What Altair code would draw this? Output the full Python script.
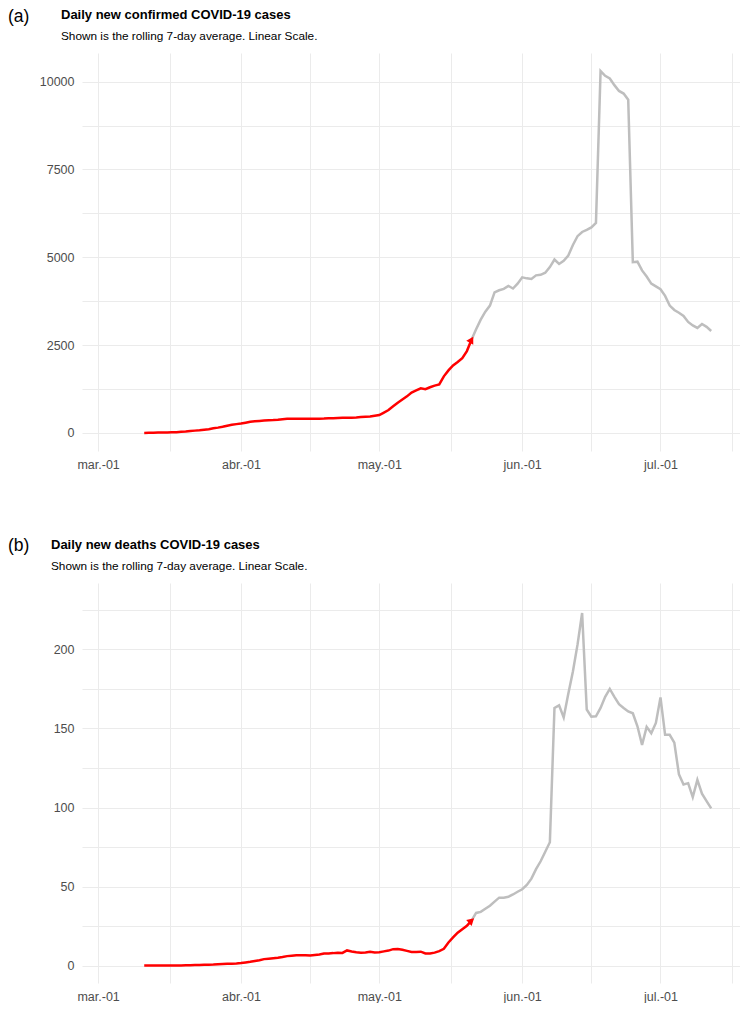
import altair as alt
import pandas as pd

# ---------------- data ----------------
start_date = "2020-03-11"
end_date = "2020-07-12"
cutoff_date = "2020-05-21"

cases = [
    # Mar 11-31
    0, 5, 8, 10, 12, 15, 18, 22, 30, 40, 55, 65, 75, 90, 105, 130, 150, 175, 205, 230, 250,
    # Apr
    265, 290, 315, 330, 340, 350, 360, 365, 375, 390, 400, 402, 403, 403, 404, 404, 405, 405,
    408, 415, 420, 425, 430, 432, 435, 440, 450, 460, 470, 490,
    # May
    510, 580, 650, 760, 860, 950, 1040, 1150, 1210, 1270, 1245, 1300, 1345, 1380, 1610, 1780,
    1920, 2020, 2130, 2330, 2650, 2950, 3225, 3450, 3625, 4000, 4060, 4100, 4185, 4110, 4250,
    # Jun
    4430, 4400, 4380, 4485, 4500, 4560, 4720, 4935, 4810, 4900, 5050, 5350, 5600, 5720, 5780,
    5850, 5980, 10300, 10165, 10090, 9900, 9735, 9660, 9485, 4860, 4875, 4625, 4450, 4250, 4170,
    # Jul 1-12
    4090, 3900, 3625, 3500, 3420, 3330, 3160, 3060, 2990, 3100, 3020, 2900,
]

deaths = [
    # Mar 11-31
    0, 0, 0, 0, 0, 0, 0, 0.1, 0.1, 0.2, 0.3, 0.4, 0.4, 0.5, 0.6, 0.7, 0.9, 1.0, 1.1, 1.2, 1.3,
    # Apr
    1.6, 2.0, 2.4, 2.9, 3.4, 4.1, 4.4, 4.7, 5.0, 5.4, 6.0, 6.3, 6.5, 6.6, 6.6, 6.4, 6.7, 7.0,
    7.6, 7.7, 7.9, 8.2, 8.0, 9.6, 8.9, 8.4, 8.1, 8.3, 8.7, 8.3,
    # May
    8.4, 9.0, 9.5, 10.4, 10.5, 10.0, 9.3, 8.6, 8.6, 8.8, 7.7, 7.6, 8.2, 9.2, 10.6, 14.6, 17.8,
    20.8, 23.0, 25.2, 28.5, 33.3, 34.0, 36.0, 37.9, 40.5, 43.0, 43.0, 43.5, 45.0, 46.7,
    # Jun
    48.3, 51, 55, 61, 66, 72, 78, 163, 164.6, 157, 172, 186, 203, 223, 162, 157.5, 157.7, 163,
    170, 175, 170, 165.4, 163, 160.8, 159.6, 151.4, 139.6, 151, 147, 153.5,
    # Jul 1-12
    169.6, 146, 146, 141, 121, 114.6, 115.4, 106.6, 117.5, 108.7, 104, 99.4,
]

month_labels = ["mar.-01", "abr.-01", "may.-01", "jun.-01", "jul.-01"]
month_numbers = [3, 4, 5, 6, 7]

cases_ticks = [0, 2500, 5000, 7500, 10000]
cases_minor = [1250, 3750, 6250, 8750]
deaths_ticks = [0, 50, 100, 150, 200]
deaths_minor = [25, 75, 125, 175, 225]

titles = ["Daily new confirmed COVID-19 cases", "Daily new deaths COVID-19 cases"]
subtitle = "Shown is the rolling 7-day average. Linear Scale."
tags = ["(a)", "(b)"]

dates = pd.date_range(start_date, end_date, freq="D").strftime("%Y-%m-%d").tolist()

# ---------------- styling ----------------
RED = "#FF0000"
GREY = "#BEBEBE"
GRID = "#EBEBEB"
LABEL = "#4D4D4D"
SANS = "Liberation Sans, Arial, sans-serif"

major_dates = [alt.DateTime(year=2020, month=m, date=1, utc=True) for m in month_numbers]
minor_dates = [
    alt.DateTime(year=2020, month=3, date=16, hours=12, utc=True),
    alt.DateTime(year=2020, month=4, date=16, utc=True),
    alt.DateTime(year=2020, month=5, date=16, hours=12, utc=True),
    alt.DateTime(year=2020, month=6, date=16, utc=True),
    alt.DateTime(year=2020, month=7, date=16, hours=12, utc=True),
]
label_array = "[" + ",".join(["''"] * 2 + ["'%s'" % l for l in month_labels] + ["''"] * 5) + "]"
x_label_expr = "utcdate(datum.value) == 1 ? %s[utcmonth(datum.value)] : ''" % label_array

x_domain = [
    alt.DateTime(year=2020, month=2, date=26, hours=12, utc=True),
    alt.DateTime(year=2020, month=7, date=18, hours=6, utc=True),
]


def text_mark(text, x, y, size, weight="normal"):
    return alt.Chart(pd.DataFrame({"t": [text]})).mark_text(
        align="left", baseline="alphabetic", font=SANS, fontSize=size,
        fontWeight=weight, color="black"
    ).encode(x=alt.value(x), y=alt.value(y), text="t:N")


def panel(values, y_domain, y_major, y_minor, width, height, tag, tag_x, tag_y,
          title, title_x, arrow_angle):
    df = pd.DataFrame({"date": dates, "value": values})
    red_df = df[df["date"] <= cutoff_date]
    grey_df = df[df["date"] >= cutoff_date]
    arrow_df = red_df.tail(1)

    y_label_expr = "indexof([%s], datum.value) >= 0 ? format(datum.value, 'd') : ''" % (
        ",".join(str(v) for v in y_major))

    x_enc = alt.X(
        "date:T",
        scale=alt.Scale(type="utc", domain=x_domain, nice=False),
        axis=alt.Axis(
            title=None, values=major_dates + minor_dates, labelExpr=x_label_expr,
            grid=True, gridColor=GRID, gridWidth=1, ticks=False, domain=False,
            labelColor=LABEL, labelFont=SANS, labelFontSize=12.5, labelPadding=7,
            labelOverlap=False, labelFlush=False,
        ),
    )
    y_enc = alt.Y(
        "value:Q",
        scale=alt.Scale(domain=y_domain, nice=False, zero=False),
        axis=alt.Axis(
            title=None, values=sorted(y_major + y_minor), labelExpr=y_label_expr,
            grid=True, gridColor=GRID, gridWidth=1, ticks=False, domain=False,
            labelColor=LABEL, labelFont=SANS, labelFontSize=12.5, labelPadding=8,
            labelOverlap=False,
        ),
    )

    grey = alt.Chart(grey_df).mark_line(color=GREY, strokeWidth=2.5).encode(x=x_enc, y=y_enc)
    red = alt.Chart(red_df).mark_line(color=RED, strokeWidth=2.5).encode(x=x_enc, y=y_enc)
    arrow = alt.Chart(arrow_df).mark_point(
        shape="triangle-up", filled=True, color=RED, opacity=1, size=65, angle=arrow_angle
    ).encode(x=x_enc, y=y_enc)

    tag_mark = text_mark(tag, tag_x, tag_y, 17.5)
    title_mark = text_mark(title, title_x, -34, 13, "bold")
    sub_mark = text_mark(subtitle, title_x, -13.5, 11.8)

    return alt.layer(grey, red, arrow, tag_mark, title_mark, sub_mark).properties(
        width=width, height=height
    )


chart_a = panel(cases, [-515, 10815], cases_ticks, cases_minor, 658, 398, tags[0],
                -74, -31, titles[0], -21, 30)
chart_b = panel(deaths, [-11, 242], deaths_ticks, deaths_minor, 658, 400, tags[1],
                -74, -32, titles[1], -31, 48)

chart = alt.vconcat(chart_a, chart_b, spacing=66).properties(
    padding=0, background="white"
).configure_view(stroke=None)

chart.save("out.html", embed_options={"renderer": "svg", "actions": False})
